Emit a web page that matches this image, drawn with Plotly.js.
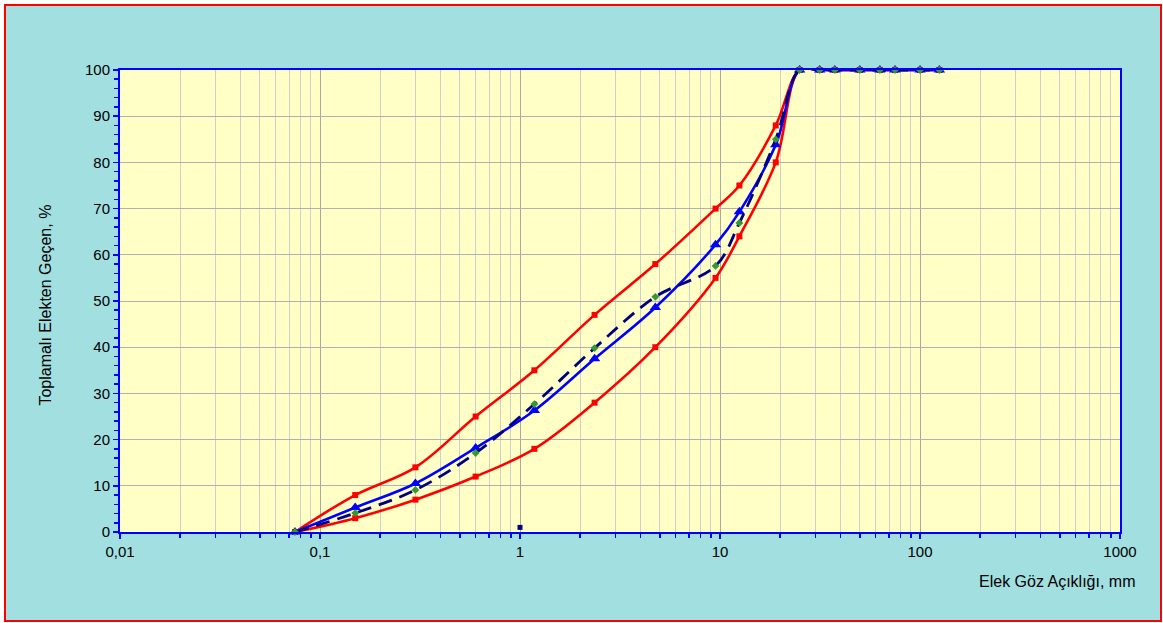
<!DOCTYPE html>
<html>
<head>
<meta charset="utf-8">
<script src="https://cdn.plot.ly/plotly-3.0.1.min.js"></script>
<style>
  html, body { margin: 0; padding: 0; background: #ffffff; width: 1163px; height: 623px; overflow: hidden; }
  #chart { position: absolute; left: 4px; top: 4px; width: 1158px; height: 618px; box-sizing: border-box; border: 2px solid #ff0000; }
</style>
</head>
<body>
<div id="chart"></div>
<script>
// Sieve openings (mm)
const sieves = [0.075, 0.15, 0.3, 0.6, 1.18, 2.36, 4.75, 9.5, 12.5, 19, 25, 31.5, 37.5, 50, 63, 75, 100, 125];
// Upper specification limit (% passing)
const upperLimit = [0, 8, 14, 25, 35, 47, 58, 70, 75, 88, 100, 100, 100, 100, 100, 100, 100, 100];
// Lower specification limit (% passing)
const lowerLimit = [0, 3, 7, 12, 18, 28, 40, 55, 64, 80, 100, 100, 100, 100, 100, 100, 100, 100];
// Mix gradation (blue)
const mixGradation = [0, 5.3, 10.5, 18.2, 26.3, 37.5, 48.6, 62.2, 69.3, 83.8, 100, 100, 100, 100, 100, 100, 100, 100];
// Target / design gradation (dashed)
const designGradation = [0, 4.1, 9.1, 17.1, 27.7, 39.8, 50.9, 57.6, 66.9, 85, 100, 100, 100, 100, 100, 100, 100, 100];
// Single point
const pointX = [1];
const pointY = [1];

// Tick labels
const xTickVals = [0.01, 0.1, 1, 10, 100, 1000];
const xTickText = ["0,01", "0,1", "1", "10", "100", "1000"];
const yTickVals = [0, 10, 20, 30, 40, 50, 60, 70, 80, 90, 100];

const xTitle = "Elek Göz Açıklığı, mm";
const yTitle = "Toplamalı Elekten Geçen, %";

const font = "Liberation Sans, Arial, sans-serif";

const traces = [
  { x: sieves, y: upperLimit, mode: 'lines+markers', line: { color: '#ff0000', width: 2.6, shape: 'spline', smoothing: 1 },
    marker: { symbol: 'square', size: 6, color: '#ff0000' }, cliponaxis: false, hoverinfo: 'skip' },
  { x: sieves, y: lowerLimit, mode: 'lines+markers', line: { color: '#ff0000', width: 2.6, shape: 'spline', smoothing: 1 },
    marker: { symbol: 'square', size: 6, color: '#ff0000' }, cliponaxis: false, hoverinfo: 'skip' },
  { x: sieves, y: mixGradation, mode: 'lines+markers', line: { color: '#0000ff', width: 2.6, shape: 'spline', smoothing: 1 },
    marker: { symbol: 'triangle-up', size: 10, color: '#0000ff' }, cliponaxis: false, hoverinfo: 'skip' },
  { x: sieves, y: designGradation, mode: 'lines+markers', line: { color: '#000080', width: 2.8, dash: '14px,8px', shape: 'spline', smoothing: 1 },
    marker: { symbol: 'diamond', size: 6, color: '#339933' }, cliponaxis: false, hoverinfo: 'skip' },
  { x: pointX, y: pointY, mode: 'markers', marker: { symbol: 'square', size: 5, color: '#000080' }, cliponaxis: false, hoverinfo: 'skip' }
];

const layout = {
  width: 1154, height: 614,
  margin: { l: 114, r: 40, t: 64, b: 88, pad: 0 },
  paper_bgcolor: '#a1dfe0',
  plot_bgcolor: '#ffffc6',
  showlegend: false,
  font: { family: font, size: 15, color: '#000000' },
  xaxis: {
    type: 'log', range: [-2, 3], autorange: false,
    tickmode: 'array', tickvals: xTickVals, ticktext: xTickText,
    ticks: 'outside', ticklen: 5, tickwidth: 1.5, tickcolor: '#0000ff',
    showline: true, linecolor: '#0000ff', linewidth: 2, mirror: true,
    showgrid: true, gridcolor: '#a8a8a8', gridwidth: 1,
    zeroline: false,
    tickfont: { family: font, size: 15, color: '#000000' },
    minor: { dtick: 'D1', showgrid: true, gridcolor: '#cfcfcf', gridwidth: 1, ticks: 'outside', ticklen: 4, tickcolor: '#0000ff', tickwidth: 1.5 }
  },
  yaxis: {
    range: [0, 100], autorange: false,
    tickmode: 'array', tickvals: yTickVals,
    ticks: 'outside', ticklen: 5, tickwidth: 1.5, tickcolor: '#0000ff',
    showline: true, linecolor: '#0000ff', linewidth: 2, mirror: true,
    showgrid: true, gridcolor: '#b0b0b0', gridwidth: 1,
    zeroline: false,
    tickfont: { family: font, size: 15, color: '#000000' },
    minor: { dtick: 2, ticks: 'outside', ticklen: 4, tickcolor: '#0000ff', tickwidth: 1.5, showgrid: false }
  },
  annotations: [
    { text: xTitle, xref: 'paper', yref: 'paper', x: 1.017, y: -0.108, xanchor: 'right', yanchor: 'middle',
      showarrow: false, font: { family: font, size: 16, color: '#000000' } },
    { text: yTitle, xref: 'paper', yref: 'paper', x: -0.074, y: 0.49, xanchor: 'center', yanchor: 'middle', textangle: -90,
      showarrow: false, font: { family: font, size: 16, color: '#000000' } }
  ]
};

Plotly.newPlot('chart', traces, layout, { staticPlot: true, displayModeBar: false });
</script>
</body>
</html>
